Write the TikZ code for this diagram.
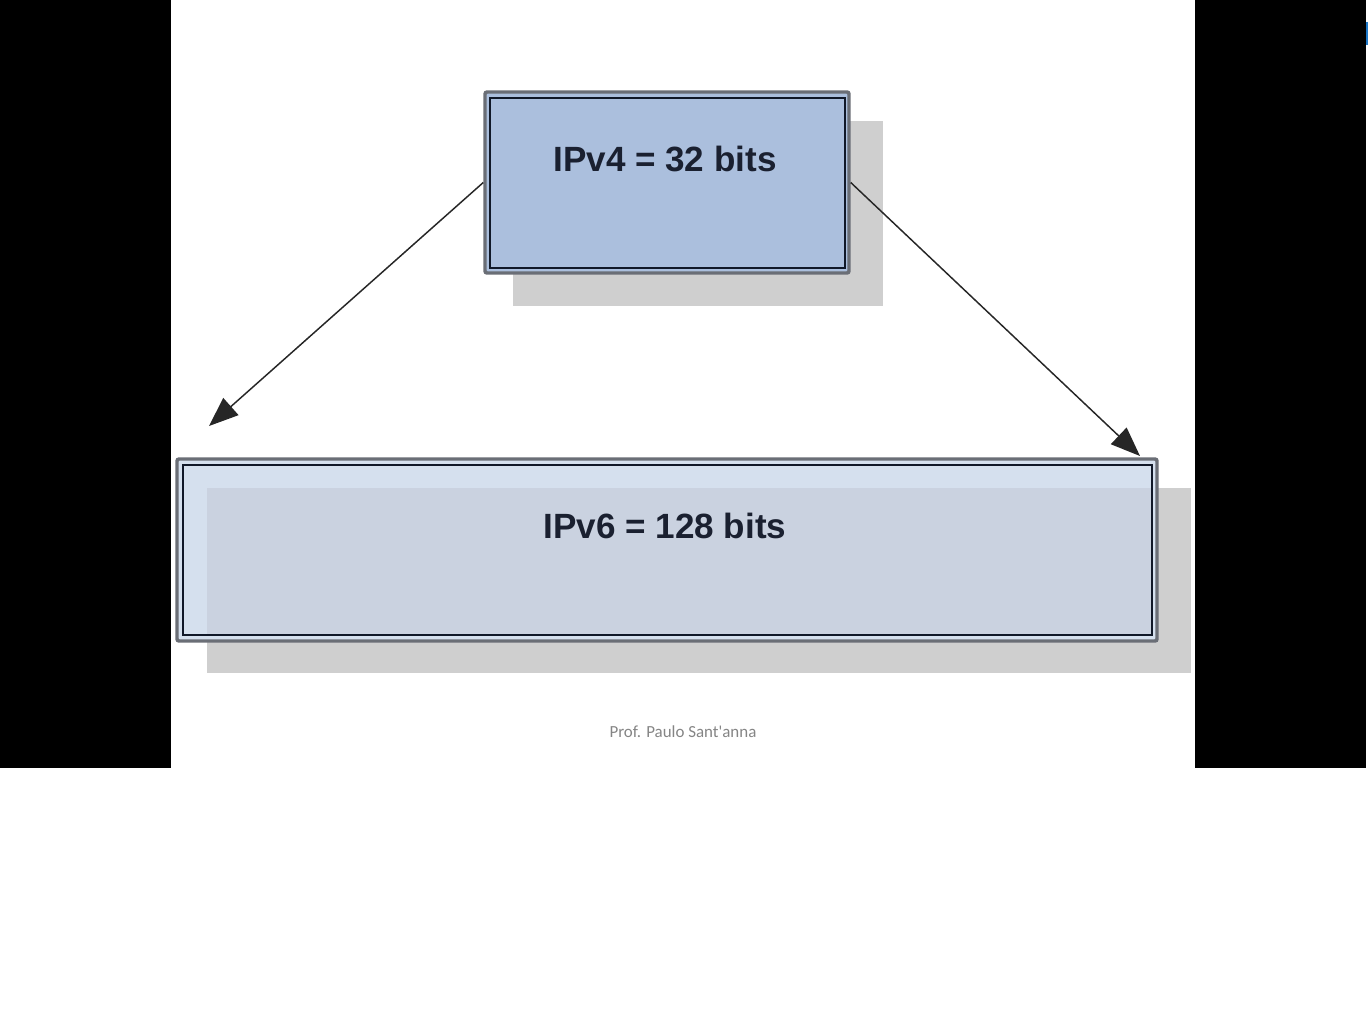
\documentclass[tikz,border=0pt]{standalone}
\usepackage{fontspec}
\setmainfont{Liberation Sans}
\newfontfamily\footfont{Carlito}
\usetikzlibrary{arrows.meta,fit}
\definecolor{boxfill}{HTML}{ABBFDD}
\definecolor{widefill}{HTML}{D5E0EE}
\definecolor{wideshade}{HTML}{CAD2E0}
\definecolor{shadowgray}{HTML}{CFCFCF}
\definecolor{outerline}{HTML}{6A6E76}
\definecolor{innerline}{HTML}{101828}
\definecolor{textdark}{HTML}{1A2030}
\definecolor{footgray}{HTML}{858585}
\definecolor{markblue}{HTML}{1E78C8}
\tikzset{
  bitbox/.style={draw=outerline, line width=2.6pt, rounded corners=1.5pt, inner sep=0pt},
  innerframe/.style={draw=innerline, line width=1.6pt},
  bitlabel/.style={font=\bfseries\fontsize{26.3}{30}\selectfont, text=textdark, inner sep=0pt},
  shiftarrow/.style={draw=black!85, line width=1.1pt, -{Triangle[length=22pt,width=17pt]}},
  footlabel/.style={font=\footfont\fontsize{12.7}{14}\selectfont, text=footgray, inner sep=0pt}
}
\begin{document}
\begin{tikzpicture}[x=0.75pt,y=-0.75pt]
\useasboundingbox (0,0) rectangle (1368,1008);
\fill[white] (0,0) rectangle (1368,1008);
% black side bars
\fill[black] (0,0) rectangle (171,768);
\fill[black] (1195,0) rectangle (1366,768);
\fill[markblue] (1366,22) rectangle (1368,45);
% shadows
\fill[shadowgray] (513,121) rectangle (883,306);
\fill[shadowgray] (207,488) rectangle (1191,673);
% top box
\fill[boxfill] (485,92) rectangle (849,273);
\node[bitbox, fit={(485,92) (849,273)}] (v4) {};
\draw[innerframe] (490,98) rectangle (845,268);
\node[bitlabel] (v4text) at (665,159) {IPv4 = 32 bits};
% bottom box
\fill[widefill] (177,459) rectangle (1157,641);
\fill[wideshade] (207,488) rectangle (1153,636);
\node[bitbox, fit={(177,459) (1157,641)}] (v6) {};
\draw[innerframe] (183,465) rectangle (1152,635);
\node[bitlabel] (v6text) at (665,526) {IPv6 = 128 bits};
% arrows
\coordinate (lefttip) at (209,426);
\coordinate (righttip) at (1140,456);
\draw[shiftarrow] (v4.west) -- (lefttip);
\draw[shiftarrow] (v4.east) -- (righttip);
% footer
\node[footlabel] (foot) at (683,732) {Prof. Paulo Sant'anna};
\end{tikzpicture}
\end{document}
